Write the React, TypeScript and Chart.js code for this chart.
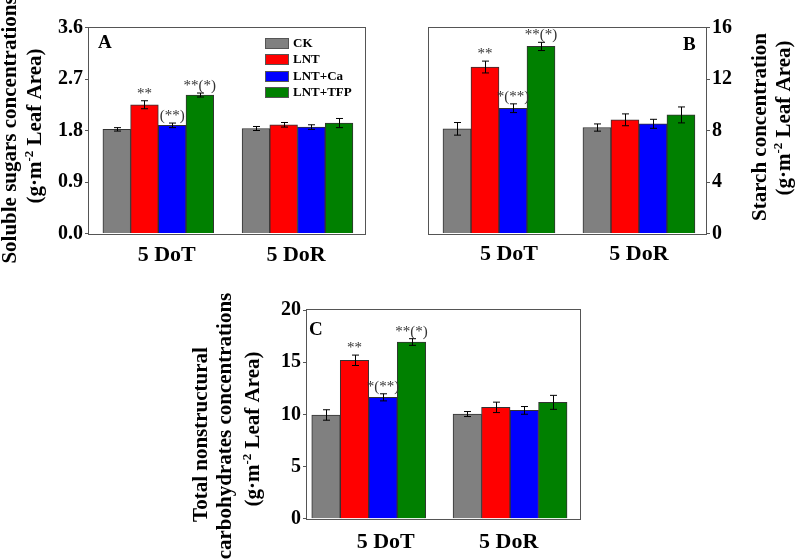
import React, { useEffect, useRef } from 'react';
import { Chart, registerables } from 'chart.js';

Chart.register(...registerables);

const FONT = "'Liberation Serif', 'Times New Roman', serif";

const categories = ['5 DoT', '5 DoR'];
const seriesNames = ['CK', 'LNT', 'LNT+Ca', 'LNT+TFP'];
const seriesColors = ['#808080', '#ff0000', '#0000ff', '#008000'];

// Panel A: soluble sugars
const sugarCK = [1.82, 1.835];
const sugarLNT = [2.25, 1.9];
const sugarCa = [1.89, 1.86];
const sugarTFP = [2.42, 1.93];
const sugarCKErr = [0.03, 0.035];
const sugarLNTErr = [0.07, 0.04];
const sugarCaErr = [0.04, 0.04];
const sugarTFPErr = [0.035, 0.08];
const sugarSig = ['', '**', '(**)', '**(*)'];
const sugarTicks = [0, 0.9, 1.8, 2.7, 3.6];

// Panel B: starch
const starchCK = [8.13, 8.23];
const starchLNT = [12.93, 8.83];
const starchCa = [9.73, 8.52];
const starchTFP = [14.53, 9.21];
const starchCKErr = [0.49, 0.28];
const starchLNTErr = [0.46, 0.46];
const starchCaErr = [0.34, 0.35];
const starchTFPErr = [0.32, 0.62];
const starchSig = ['', '**', '*(**)', '**(*)'];
const starchTicks = [0, 4, 8, 12, 16];

// Panel C: total nonstructural carbohydrates
const tncCK = [9.94, 10.03];
const tncLNT = [15.18, 10.67];
const tncCa = [11.63, 10.38];
const tncTFP = [16.93, 11.15];
const tncCKErr = [0.5, 0.24];
const tncLNTErr = [0.5, 0.5];
const tncCaErr = [0.34, 0.37];
const tncTFPErr = [0.32, 0.67];
const tncSig = ['', '**', '*(**)', '**(*)'];
const tncTicks = [0, 5, 10, 15, 20];

type Seg = { t: string; sup?: boolean };
type TitleLine = { segs: Seg[]; x: number; cy: number };

const unitSegs: Seg[] = [{ t: '(g·m' }, { t: '-2', sup: true }, { t: ' Leaf Area)' }];

interface PanelSpec {
  left: number; top: number; width: number; height: number;
  padding: { left: number; right: number; top: number; bottom: number };
  yWidth: number; xHeight: number; yPos: 'left' | 'right';
  xMin: number; xMax: number; xLabelPos: number[]; xPad: number;
  yTicks: number[]; yDecimals: number;
  series: number[][]; errs: number[][]; sig: string[];
  letter: string; letterX: number; letterY: number;
  titles: TitleLine[]; legend: boolean; barThickness: number;
}

const specA: PanelSpec = {
  left: 0, top: 0, width: 400, height: 280,
  padding: { left: 0, right: 35, top: 27.5, bottom: 0 },
  yWidth: 89, xHeight: 46.5, yPos: 'left',
  xMin: 0.502, xMax: 2.485, xLabelPos: [1.06, 1.99], xPad: 9,
  yTicks: sugarTicks, yDecimals: 1,
  series: [sugarCK, sugarLNT, sugarCa, sugarTFP],
  errs: [sugarCKErr, sugarLNTErr, sugarCaErr, sugarTFPErr],
  sig: sugarSig,
  letter: 'A', letterX: 98, letterY: 48,
  titles: [
    { segs: [{ t: 'Soluble sugars concentrations' }], x: 16, cy: 130 },
    { segs: unitSegs, x: 40.5, cy: 126 },
  ],
  legend: true, barThickness: 27.7,
};

const specB: PanelSpec = {
  left: 400, top: 0, width: 397, height: 280,
  padding: { left: 29, right: 0, top: 27.5, bottom: 0 },
  yWidth: 91, xHeight: 46.5, yPos: 'right',
  xMin: 0.5, xMax: 2.479, xLabelPos: [1.071, 2.0], xPad: 8,
  yTicks: starchTicks, yDecimals: 0,
  series: [starchCK, starchLNT, starchCa, starchTFP],
  errs: [starchCKErr, starchLNTErr, starchCaErr, starchTFPErr],
  sig: starchSig,
  letter: 'B', letterX: 283, letterY: 50,
  titles: [
    { segs: [{ t: 'Starch concentration' }], x: 366, cy: 127 },
    { segs: unitSegs, x: 390, cy: 118 },
  ],
  legend: false, barThickness: 28,
};

const specC: PanelSpec = {
  left: 180, top: 280, width: 440, height: 279,
  padding: { left: 0, right: 40, top: 30, bottom: 0 },
  yWidth: 127, xHeight: 40.3, yPos: 'left',
  xMin: 0.563, xMax: 2.495, xLabelPos: [1.12, 1.99], xPad: 10.5,
  yTicks: tncTicks, yDecimals: 0,
  series: [tncCK, tncLNT, tncCa, tncTFP],
  errs: [tncCKErr, tncLNTErr, tncCaErr, tncTFPErr],
  sig: tncSig,
  letter: 'C', letterX: 129, letterY: 55,
  titles: [
    { segs: [{ t: 'Total nonstructural' }], x: 27, cy: 154.5 },
    { segs: [{ t: 'carbohydrates concentrations' }], x: 51, cy: 146 },
    { segs: unitSegs, x: 79, cy: 149 },
  ],
  legend: false, barThickness: 28.5,
};

function drawRotated(ctx: CanvasRenderingContext2D, line: TitleLine) {
  const font = `bold 21px ${FONT}`;
  const supFont = `bold 13px ${FONT}`;
  let total = 0;
  for (const s of line.segs) {
    ctx.font = s.sup ? supFont : font;
    total += ctx.measureText(s.t).width;
  }
  ctx.save();
  ctx.translate(line.x, line.cy);
  ctx.rotate(-Math.PI / 2);
  ctx.textAlign = 'left';
  ctx.textBaseline = 'alphabetic';
  ctx.fillStyle = '#000';
  let x = -total / 2;
  for (const s of line.segs) {
    ctx.font = s.sup ? supFont : font;
    ctx.fillText(s.t, x, s.sup ? -8 : 0);
    x += ctx.measureText(s.t).width;
  }
  ctx.restore();
}

function makeExtras(spec: PanelSpec) {
  return {
    id: 'extras',
    afterDatasetsDraw(chart: any) {
      const ctx: CanvasRenderingContext2D = chart.ctx;
      const ca = chart.chartArea;
      const yS = chart.scales.y;
      ctx.save();
      spec.series.forEach((vals, si) => {
        const meta = chart.getDatasetMeta(si);
        vals.forEach((v, ci) => {
          const bar = meta.data[ci];
          if (!bar) return;
          const e = spec.errs[si][ci];
          const x = Math.round(bar.x) + 0.5;
          const yTop = yS.getPixelForValue(v + e);
          const yBot = yS.getPixelForValue(v - e);
          ctx.strokeStyle = '#000';
          ctx.lineWidth = 1;
          ctx.beginPath();
          ctx.moveTo(x, yTop);
          ctx.lineTo(x, yBot);
          ctx.moveTo(x - 3.5, yTop);
          ctx.lineTo(x + 3.5, yTop);
          ctx.moveTo(x - 3.5, yBot);
          ctx.lineTo(x + 3.5, yBot);
          ctx.stroke();
          if (ci === 0 && spec.sig[si]) {
            ctx.font = `15px ${FONT}`;
            ctx.fillStyle = '#333';
            ctx.textAlign = 'center';
            ctx.textBaseline = 'alphabetic';
            ctx.fillText(spec.sig[si], bar.x, yTop - 3);
          }
        });
      });
      ctx.strokeStyle = '#555';
      ctx.lineWidth = 1;
      const L = Math.round(ca.left) - 0.5;
      const T = Math.round(ca.top) - 0.5;
      const R = Math.round(ca.right) + 0.5;
      const B = Math.round(ca.bottom) + 0.5;
      ctx.strokeRect(L, T, R - L, B - T);
      ctx.font = `bold 19px ${FONT}`;
      ctx.fillStyle = '#000';
      ctx.textAlign = 'left';
      ctx.textBaseline = 'alphabetic';
      ctx.fillText(spec.letter, spec.letterX, spec.letterY);
      if (spec.legend) {
        seriesNames.forEach((n, i) => {
          const cy = Math.round(43 + 16.4 * i);
          ctx.fillStyle = seriesColors[i];
          ctx.fillRect(265, cy - 5, 24, 11);
          ctx.strokeStyle = '#555';
          ctx.strokeRect(265.5, cy - 4.5, 23, 10);
          ctx.fillStyle = '#000';
          ctx.font = `bold 13px ${FONT}`;
          ctx.textBaseline = 'middle';
          ctx.fillText(n, 293, cy + 1);
        });
      }
      spec.titles.forEach((t) => drawRotated(ctx, t));
      ctx.restore();
    },
  };
}

function buildConfig(spec: PanelSpec): any {
  return {
    type: 'bar',
    data: {
      datasets: spec.series.map((vals, si) => ({
        label: seriesNames[si],
        data: vals.map((v, ci) => ({ x: ci + 1, y: v })),
        backgroundColor: seriesColors[si],
        borderColor: '#333',
        borderWidth: 1,
        barThickness: spec.barThickness,
      })),
    },
    options: {
      responsive: false,
      maintainAspectRatio: false,
      animation: false,
      events: [],
      layout: { padding: spec.padding },
      plugins: { legend: { display: false }, tooltip: { enabled: false } },
      scales: {
        x: {
          type: 'linear',
          offset: false,
          bounds: 'data',
          min: spec.xMin,
          max: spec.xMax,
          grid: { display: false, drawTicks: false, offset: false },
          border: { display: false },
          afterBuildTicks: (s: any) => {
            s.ticks = spec.xLabelPos.map((v) => ({ value: v }));
          },
          ticks: {
            callback: (_v: any, i: number) => categories[i],
            font: { family: FONT, size: 22, weight: 'bold' },
            color: '#000',
            padding: spec.xPad,
            maxRotation: 0,
            autoSkip: false,
          },
          afterFit: (s: any) => {
            s.height = spec.xHeight;
          },
        },
        y: {
          type: 'linear',
          position: spec.yPos,
          min: spec.yTicks[0],
          max: spec.yTicks[spec.yTicks.length - 1],
          afterBuildTicks: (s: any) => {
            s.ticks = spec.yTicks.map((v) => ({ value: v }));
          },
          grid: { drawOnChartArea: false, drawTicks: true, tickLength: 4, color: '#555' },
          border: { display: false },
          ticks: {
            callback: (v: any) => Number(v).toFixed(spec.yDecimals),
            font: { family: FONT, size: 20, weight: 'bold' },
            color: '#000',
            padding: 2,
            autoSkip: false,
          },
          afterFit: (s: any) => {
            s.width = spec.yWidth;
          },
        },
      },
    },
    plugins: [makeExtras(spec)],
  };
}

function Panel({ spec }: { spec: PanelSpec }) {
  const ref = useRef<HTMLCanvasElement>(null);
  useEffect(() => {
    const chart = new Chart(ref.current as HTMLCanvasElement, buildConfig(spec));
    return () => chart.destroy();
  }, []);
  return (
    <canvas
      ref={ref}
      width={spec.width}
      height={spec.height}
      style={{ position: 'absolute', left: spec.left, top: spec.top, width: spec.width, height: spec.height }}
    />
  );
}

export default function App() {
  return (
    <div style={{ position: 'absolute', left: 0, top: 0, width: 797, height: 559, background: '#fff', overflow: 'hidden' }}>
      <Panel spec={specA} />
      <Panel spec={specB} />
      <Panel spec={specC} />
    </div>
  );
}
